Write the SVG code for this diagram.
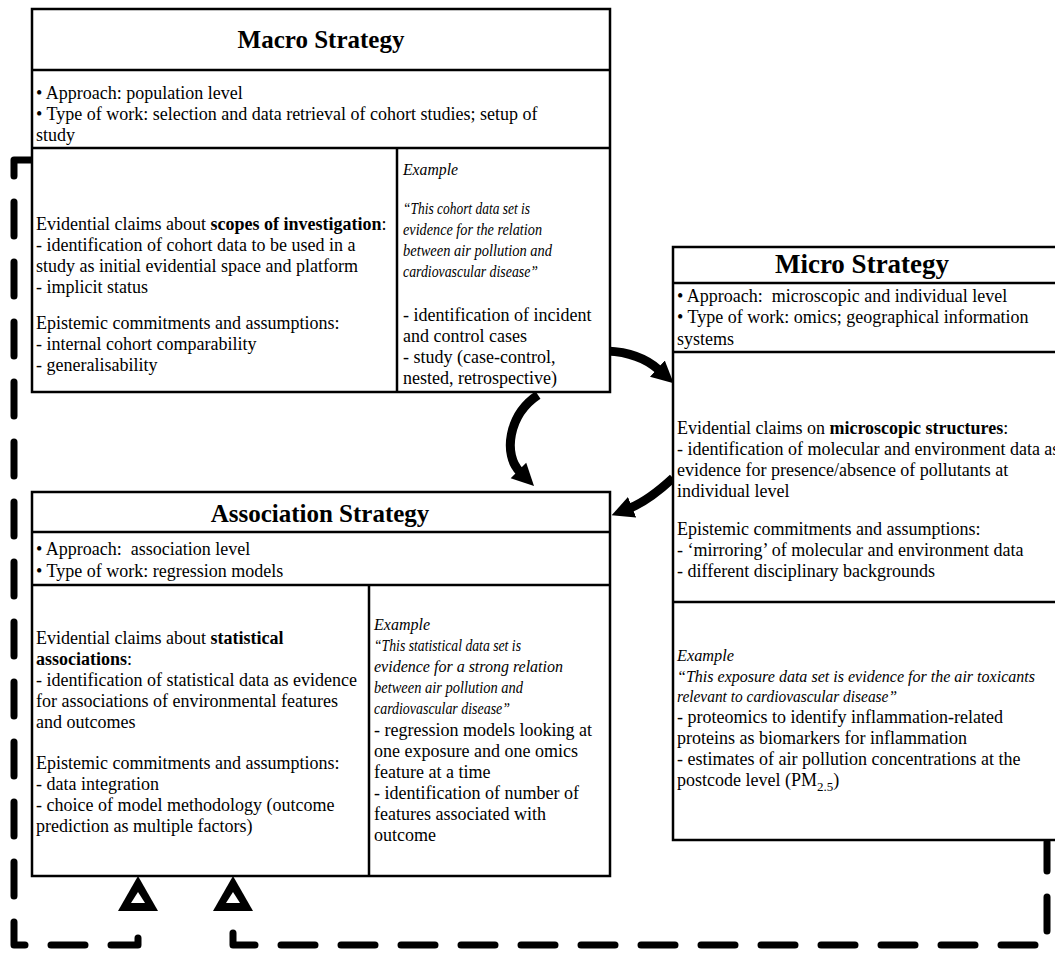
<svg xmlns="http://www.w3.org/2000/svg" xmlns:xlink="http://www.w3.org/1999/xlink" width="1055" height="954" viewBox="0 0 1055 954">
<style>
.box{fill:#fff;stroke:#000;stroke-width:2.5}
.ln{stroke:#000;stroke-width:2.5;fill:none}
text{font-family:"Liberation Serif",serif;font-size:18px;fill:#000}
.title{font-weight:bold;font-size:25px;text-anchor:middle}
.it{font-style:italic;font-size:16.5px}
.b{font-weight:bold}
.dash{fill:none;stroke:#000;stroke-width:7;stroke-dasharray:34 26;stroke-linecap:round;stroke-linejoin:round}
.arrow{fill:none;stroke:#000;stroke-width:9;marker-end:url(#ah)}
</style>
<defs>
<marker id="ah" viewBox="0 0 20 20" markerUnits="userSpaceOnUse" markerWidth="22" markerHeight="24" refX="2" refY="10" orient="auto">
<path d="M0,0 L20,10 L0,20 z" fill="#000"/>
</marker>
<g id="tri">
<polygon points="0,0 -20,35 20,35" fill="#000"/>
<polygon points="0,16 -7,27 7,27" fill="#fff"/>
</g>
</defs>
<rect width="1055" height="954" fill="#fff"/>

<g id="connectors">
<path class="dash" d="M32,160 H14 V945 H138 V933"/>
<path class="dash" d="M233,933 V945 H1047 V842"/>
<use xlink:href="#tri" x="138" y="876"/>
<use xlink:href="#tri" x="233" y="876"/>
<path class="arrow" d="M607,351 C630,352 648,360 659,370"/>
<path class="arrow" d="M538,395 C508,415 503,455 520,472"/>
<path class="arrow" d="M673,478 C660,490 645,502 630,508"/>
</g>

<g id="macro">
<rect class="box" x="32" y="9" width="578" height="383"/>
<line class="ln" x1="32" y1="70" x2="610" y2="70"/>
<line class="ln" x1="32" y1="148" x2="610" y2="148"/>
<line class="ln" x1="397" y1="148" x2="397" y2="392"/>
<text class="title" x="321" y="48">Macro Strategy</text>
<text x="36" y="99">• Approach: population level</text>
<text x="36" y="120">• Type of work: selection and data retrieval of cohort studies; setup of</text>
<text x="36" y="141">study</text>
<text x="36" y="230">Evidential claims about <tspan class="b">scopes of investigation</tspan>:</text>
<text x="36" y="251">- identification of cohort data to be used in a</text>
<text x="36" y="272">study as initial evidential space and platform</text>
<text x="36" y="293">- implicit status</text>
<text x="36" y="329">Epistemic commitments and assumptions:</text>
<text x="36" y="350">- internal cohort comparability</text>
<text x="36" y="371">- generalisability</text>
<text class="it" x="403" y="175" textLength="55" lengthAdjust="spacingAndGlyphs">Example</text>
<text class="it" x="403" y="214" textLength="127" lengthAdjust="spacingAndGlyphs">“This cohort data set is</text>
<text class="it" x="403" y="235" textLength="139" lengthAdjust="spacingAndGlyphs">evidence for the relation</text>
<text class="it" x="403" y="256" textLength="149" lengthAdjust="spacingAndGlyphs">between air pollution and</text>
<text class="it" x="403" y="277" textLength="135" lengthAdjust="spacingAndGlyphs">cardiovascular disease”</text>
<text x="403" y="321">- identification of incident</text>
<text x="403" y="342">and control cases</text>
<text x="403" y="363">- study (case-control,</text>
<text x="403" y="384">nested, retrospective)</text>
</g>

<g id="micro">
<rect class="box" x="673" y="247" width="390" height="593"/>
<line class="ln" x1="673" y1="283" x2="1063" y2="283"/>
<line class="ln" x1="673" y1="352" x2="1063" y2="352"/>
<line class="ln" x1="673" y1="602" x2="1063" y2="602"/>
<text class="title" x="862" y="273" style="font-size:27px">Micro Strategy</text>
<text x="677" y="302">• Approach:&#160; microscopic and individual level</text>
<text x="677" y="323">• Type of work: omics; geographical information</text>
<text x="677" y="345">systems</text>
<text x="677" y="434">Evidential claims on <tspan class="b">microscopic structures</tspan>:</text>
<text x="677" y="455">- identification of molecular and environment data as</text>
<text x="677" y="476">evidence for presence/absence of pollutants at</text>
<text x="677" y="497">individual level</text>
<text x="677" y="535">Epistemic commitments and assumptions:</text>
<text x="677" y="556">- ‘mirroring’ of molecular and environment data</text>
<text x="677" y="577">- different disciplinary backgrounds</text>
<text class="it" x="677" y="661" textLength="57" lengthAdjust="spacingAndGlyphs">Example</text>
<text class="it" x="677" y="682" textLength="358" lengthAdjust="spacingAndGlyphs">“This exposure data set is evidence for the air toxicants</text>
<text class="it" x="677" y="702" textLength="220" lengthAdjust="spacingAndGlyphs">relevant to cardiovascular disease”</text>
<text x="677" y="723">- proteomics to identify inflammation-related</text>
<text x="677" y="744">proteins as biomarkers for inflammation</text>
<text x="677" y="765">- estimates of air pollution concentrations at the</text>
<text x="677" y="786">postcode level (PM<tspan font-size="13" dy="5">2.5</tspan><tspan dy="-5">)</tspan></text>
</g>

<g id="association">
<rect class="box" x="32" y="492" width="578" height="384"/>
<line class="ln" x1="32" y1="532" x2="610" y2="532"/>
<line class="ln" x1="32" y1="585" x2="610" y2="585"/>
<line class="ln" x1="369" y1="585" x2="369" y2="876"/>
<text class="title" x="320" y="522">Association Strategy</text>
<text x="36" y="555">• Approach:&#160; association level</text>
<text x="36" y="577">• Type of work: regression models</text>
<text x="36" y="644">Evidential claims about <tspan class="b">statistical</tspan></text>
<text x="36" y="665"><tspan class="b">associations</tspan>:</text>
<text x="36" y="686">- identification of statistical data as evidence</text>
<text x="36" y="707">for associations of environmental features</text>
<text x="36" y="728">and outcomes</text>
<text x="36" y="769">Epistemic commitments and assumptions:</text>
<text x="36" y="790">- data integration</text>
<text x="36" y="811">- choice of model methodology (outcome</text>
<text x="36" y="832">prediction as multiple factors)</text>
<text class="it" x="374" y="630" textLength="56" lengthAdjust="spacingAndGlyphs">Example</text>
<text class="it" x="374" y="651" textLength="147" lengthAdjust="spacingAndGlyphs">“This statistical data set is</text>
<text class="it" x="374" y="672" textLength="189" lengthAdjust="spacingAndGlyphs">evidence for a strong relation</text>
<text class="it" x="374" y="693" textLength="149" lengthAdjust="spacingAndGlyphs">between air pollution and</text>
<text class="it" x="374" y="714" textLength="136" lengthAdjust="spacingAndGlyphs">cardiovascular disease”</text>
<text x="374" y="736">- regression models looking at</text>
<text x="374" y="757">one exposure and one omics</text>
<text x="374" y="778">feature at a time</text>
<text x="374" y="799">- identification of number of</text>
<text x="374" y="820">features associated with</text>
<text x="374" y="841">outcome</text>
</g>
</svg>
